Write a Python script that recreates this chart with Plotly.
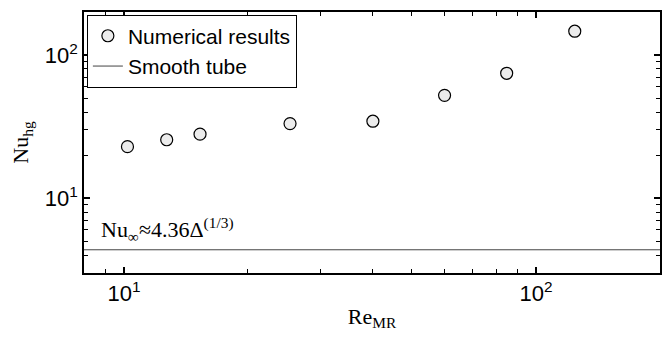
import plotly.graph_objects as go

re_mr = [10.2, 12.7, 15.3, 25.3, 40.2, 60.0, 84.9, 124.2]
nu_hg = [22.9, 25.6, 28.0, 33.2, 34.5, 52.3, 74.6, 146.8]
smooth_x = [8, 200]
smooth_nu = [4.36, 4.36]
tick_vals = [10, 100]
tick_text = ["10<sup>1</sup>", "10<sup>2</sup>"]

fig = go.Figure()
fig.add_trace(go.Scatter(
    x=re_mr, y=nu_hg, mode="markers", name="Numerical results",
    marker=dict(symbol="circle", size=12, color="#ececec",
                line=dict(color="black", width=1.2)),
))
fig.add_trace(go.Scatter(
    x=smooth_x, y=smooth_nu, mode="lines", name="Smooth tube",
    line=dict(color="#444444", width=1),
))

axis_common = dict(
    type="log", showgrid=False, zeroline=False,
    showline=True, linecolor="black", linewidth=1.7, mirror="ticks",
    ticks="inside", ticklen=6, tickcolor="black", tickwidth=1.5,
    tickvals=tick_vals, ticktext=tick_text,
    tickfont=dict(family="Liberation Sans, Arial", size=22, color="black"),
)

fig.update_xaxes(
    **axis_common,
    range=[0.90309, 2.30103],
    minor=dict(ticks="inside", ticklen=4, tickcolor="black", tickwidth=1.2,
               tickvals=[8, 9, 20, 30, 40, 50, 60, 70, 80, 90, 200]),
    title=dict(text="Re<sub>MR</sub>",
               font=dict(family="Liberation Serif, Times New Roman", size=22, color="black"),
               standoff=3),
)
fig.update_yaxes(
    **axis_common,
    range=[0.47712, 2.30103],
    minor=dict(ticks="inside", ticklen=4, tickcolor="black", tickwidth=1.2,
               tickvals=[3, 4, 5, 6, 7, 8, 9, 20, 30, 40, 50, 60, 70, 80, 90, 200]),
    title=dict(text="Nu<sub>hg</sub>",
               font=dict(family="Liberation Serif, Times New Roman", size=22, color="black"),
               standoff=10),
)

fig.add_annotation(
    x=0.028, y=0.105, xref="paper", yref="paper", xanchor="left", yanchor="bottom",
    text="Nu<sub>∞</sub>≈4.36Δ<sup>(1/3)</sup>", showarrow=False,
    font=dict(family="Liberation Serif, Times New Roman", size=22, color="black"),
    borderpad=0,
)

fig.update_layout(
    width=672, height=338,
    margin=dict(l=84, r=10, t=10, b=65),
    paper_bgcolor="white", plot_bgcolor="white",
    showlegend=True,
    legend=dict(
        x=0.005, y=0.99, xanchor="left", yanchor="top",
        bordercolor="black", borderwidth=1, bgcolor="white",
        font=dict(family="Liberation Sans, Arial", size=21, color="black"),
        itemwidth=30, tracegroupgap=0,
    ),
)

fig.write_html("out.html")
